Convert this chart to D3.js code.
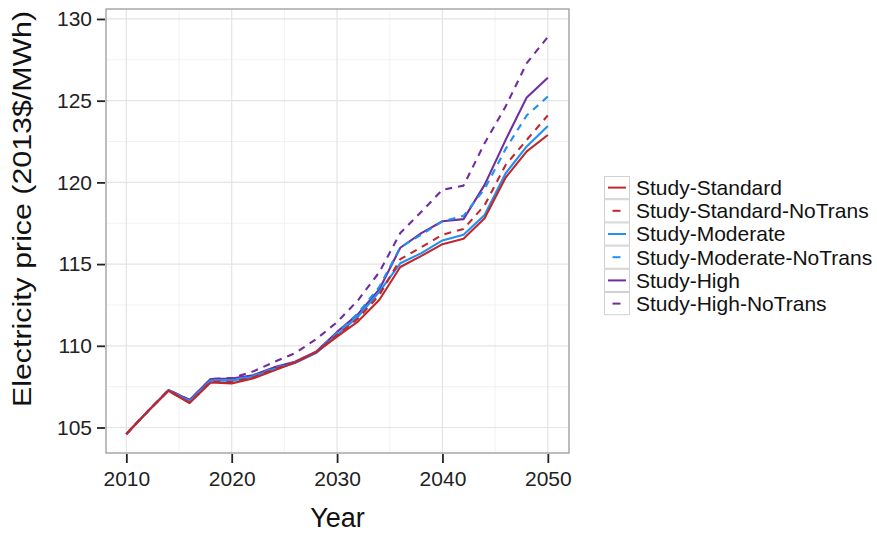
<!DOCTYPE html>
<html>
<head>
<meta charset="utf-8">
<script src="https://cdn.jsdelivr.net/npm/d3@7"></script>
<style>
  html, body { margin: 0; padding: 0; background: #fff; }
  svg { display: block; }
  text { font-family: "Liberation Sans", Arial, Helvetica, sans-serif; }
</style>
</head>
<body>
<svg id="chart" width="877" height="533"></svg>
<script>
const years = [2010,2012,2014,2016,2018,2020,2022,2024,2026,2028,2030,2032,2034,2036,2038,2040,2042,2044,2046,2048,2050];

const seriesNames = ["Study-Standard","Study-Standard-NoTrans","Study-Moderate","Study-Moderate-NoTrans","Study-High","Study-High-NoTrans"];

const standard        = [104.6,105.97,107.25,106.5,107.75,107.7,108.0,108.48,108.97,109.6,110.56,111.5,112.8,114.82,115.5,116.22,116.55,117.8,120.3,121.9,122.9];
const standardNoTrans = [104.6,105.97,107.25,106.52,107.8,107.78,108.05,108.55,109.0,109.62,110.65,111.68,113.1,115.3,116.03,116.8,117.15,118.6,121.07,122.6,124.1];
const moderate        = [104.6,105.97,107.27,106.6,107.88,107.87,108.1,108.56,108.95,109.55,110.66,111.79,113.3,115.05,115.67,116.45,116.8,118.0,120.56,122.2,123.45];
const moderateNoTrans = [104.6,105.97,107.27,106.62,107.9,107.9,108.15,108.62,109.0,109.6,110.8,112.0,113.6,116.03,116.8,117.62,117.95,119.6,122.05,124.1,125.25];
const high            = [104.6,105.97,107.3,106.68,107.97,108.0,108.2,108.68,109.03,109.64,110.85,111.95,113.45,116.0,116.9,117.62,117.75,119.85,122.6,125.2,126.4];
const highNoTrans     = [104.6,105.97,107.3,106.68,107.97,108.02,108.42,109.0,109.55,110.4,111.45,112.8,114.5,116.9,118.2,119.55,119.8,122.4,124.65,127.3,128.9];

const xTicks = [2010,2020,2030,2040,2050];
const xMinor = [2015,2025,2035,2045];
const yTicks = [105,110,115,120,125,130];
const yMinor = [107.5,112.5,117.5,122.5,127.5];

const xTitle = "Year";
const yTitle = "Electricity price (2013$/MWh)";

const valuesList = [standard, standardNoTrans, moderate, moderateNoTrans, high, highNoTrans];
const colors = ["#c0272d","#c0272d","#2190f0","#2190f0","#6f2da0","#6f2da0"];
const dashed = [false,true,false,true,false,true];

const svg = d3.select("#chart");
const panel = {left:106, right:569, top:9, bottom:453};

const x = d3.scaleLinear().domain([2008.07, 2052.01]).range([panel.left, panel.right]);
const y = d3.scaleLinear().domain([103.44, 130.61]).range([panel.bottom, panel.top]);

svg.append("rect").attr("x", panel.left).attr("y", panel.top)
  .attr("width", panel.right-panel.left).attr("height", panel.bottom-panel.top)
  .attr("fill", "#fff");

const grid = svg.append("g");
grid.selectAll("line.xmin").data(xMinor).enter().append("line")
  .attr("x1", d=>x(d)).attr("x2", d=>x(d)).attr("y1", panel.top).attr("y2", panel.bottom)
  .attr("stroke", "#f2f2f2").attr("stroke-width", 1);
grid.selectAll("line.ymin").data(yMinor).enter().append("line")
  .attr("y1", d=>y(d)).attr("y2", d=>y(d)).attr("x1", panel.left).attr("x2", panel.right)
  .attr("stroke", "#f2f2f2").attr("stroke-width", 1);
grid.selectAll("line.xmaj").data(xTicks).enter().append("line")
  .attr("x1", d=>x(d)).attr("x2", d=>x(d)).attr("y1", panel.top).attr("y2", panel.bottom)
  .attr("stroke", "#e3e3e3").attr("stroke-width", 1.2);
grid.selectAll("line.ymaj").data(yTicks).enter().append("line")
  .attr("y1", d=>y(d)).attr("y2", d=>y(d)).attr("x1", panel.left).attr("x2", panel.right)
  .attr("stroke", "#e3e3e3").attr("stroke-width", 1.2);

const line = d3.line().x((d,i)=>x(years[i])).y(d=>y(d));
const lines = svg.append("g");
for (let k = valuesList.length-1; k >= 0; k--) {
  lines.append("path").datum(valuesList[k])
    .attr("d", line)
    .attr("fill", "none")
    .attr("stroke", colors[k])
    .attr("stroke-width", 2.1)
    .attr("stroke-linejoin", "round")
    .attr("stroke-dasharray", dashed[k] ? "7,6" : null);
}

svg.append("rect").attr("x", panel.left).attr("y", panel.top)
  .attr("width", panel.right-panel.left).attr("height", panel.bottom-panel.top)
  .attr("fill", "none").attr("stroke", "#9a9a9a").attr("stroke-width", 1.3);

const xAxis = d3.axisBottom(x).tickValues(xTicks).tickFormat(d3.format("d")).tickSize(9).tickPadding(8);
const gx = svg.append("g").attr("transform", `translate(0,${panel.bottom+1})`).call(xAxis);
gx.select(".domain").remove();
gx.selectAll(".tick line").attr("stroke", "#222").attr("stroke-width", 1.8);
gx.selectAll(".tick text").attr("fill", "#222").attr("font-size", 21)
  .attr("font-family", '"Liberation Sans", Arial, sans-serif');

const yAxis = d3.axisLeft(y).tickValues(yTicks).tickFormat(d3.format("d")).tickSize(8).tickPadding(5);
const gy = svg.append("g").attr("transform", `translate(${panel.left-1},0)`).call(yAxis);
gy.select(".domain").remove();
gy.selectAll(".tick line").attr("stroke", "#222").attr("stroke-width", 1.8);
gy.selectAll(".tick text").attr("fill", "#222").attr("font-size", 21)
  .attr("font-family", '"Liberation Sans", Arial, sans-serif');

svg.append("text").attr("x", (panel.left+panel.right)/2).attr("y", 527)
  .attr("text-anchor", "middle").attr("font-size", 27).attr("fill", "#111").text(xTitle);
svg.append("text").attr("transform", `translate(31,209) rotate(-90)`)
  .attr("text-anchor", "middle").attr("font-size", 26).attr("fill", "#111")
  .attr("textLength", 396).attr("lengthAdjust", "spacingAndGlyphs").text(yTitle);

const leg = svg.append("g").attr("transform", "translate(604,176)");
const rowH = 23.2, keyW = 25;
seriesNames.forEach((name, i) => {
  const g = leg.append("g").attr("transform", `translate(0,${i*rowH})`);
  g.append("rect").attr("x", 0.5).attr("y", 0.5).attr("width", keyW).attr("height", rowH-1)
    .attr("fill", "#fff").attr("stroke", "#d0d0d0").attr("stroke-width", 1);
  if (dashed[i]) {
    g.append("line").attr("x1", keyW/2-4).attr("x2", keyW/2+4).attr("y1", rowH/2).attr("y2", rowH/2)
      .attr("stroke", colors[i]).attr("stroke-width", 2);
  } else {
    g.append("line").attr("x1", 4).attr("x2", keyW-3).attr("y1", rowH/2).attr("y2", rowH/2)
      .attr("stroke", colors[i]).attr("stroke-width", 2);
  }
  g.append("text").attr("x", keyW+7).attr("y", rowH/2).attr("dy", "0.35em")
    .attr("font-size", 21).attr("fill", "#111").text(name);
});
</script>
</body>
</html>
